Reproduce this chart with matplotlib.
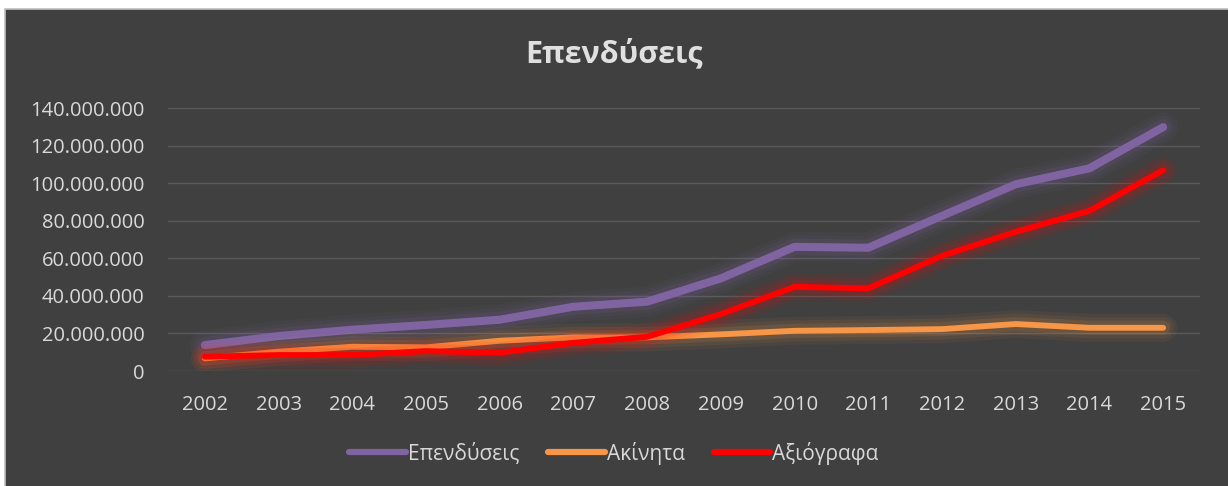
import matplotlib
matplotlib.use('Agg')
import matplotlib.pyplot as plt
from matplotlib.patches import Rectangle
from matplotlib.ticker import FuncFormatter

plt.rcParams['font.family'] = ['Open Sans', 'DejaVu Sans']

# data
years = ['2002', '2003', '2004', '2005', '2006', '2007', '2008',
         '2009', '2010', '2011', '2012', '2013', '2014', '2015']
ependyseis = [13.8e6, 18.6e6, 22.0e6, 24.5e6, 27.3e6, 34.2e6, 36.9e6,
              49.3e6, 66.1e6, 65.6e6, 82.6e6, 99.4e6, 107.9e6, 129.8e6]
akinita = [6.7e6, 10.3e6, 12.9e6, 12.6e6, 16.1e6, 17.9e6, 17.9e6,
           19.5e6, 21.4e6, 21.8e6, 22.3e6, 25.0e6, 23.0e6, 23.0e6]
axiografa = [7.6e6, 8.5e6, 8.5e6, 10.6e6, 9.7e6, 15.0e6, 18.2e6,
             30.3e6, 44.8e6, 44.0e6, 61.3e6, 74.1e6, 85.3e6, 106.9e6]

series = [
    ('Επενδύσεις', ependyseis, '#8064A2', 5.8),
    ('Ακίνητα', akinita, '#F79646', 4.2),
    ('Αξιόγραφα', axiografa, '#FF0000', 4.2),
]

bg = '#404040'
txt = '#D9D9D9'

fig = plt.figure(figsize=(12.28, 4.86), dpi=100, facecolor='white')
# chart area background with thin light border
fig.patches.append(Rectangle((5 / 1228, -0.01), 1.0, 1 - 9 / 486 + 0.01,
                             transform=fig.transFigure, facecolor=bg,
                             edgecolor='#BFBFBF', linewidth=1.2, zorder=-10))

ax = fig.add_axes([168 / 1228, 1 - 371 / 486, 1032 / 1228, 263 / 486])
ax.set_facecolor('none')

x = list(range(len(years)))
for name, vals, color, lw in series:
    # soft glow under each line
    for w, a in [(lw + 16, 0.06), (lw + 11, 0.08), (lw + 6, 0.12)]:
        ax.plot(x, vals, color=color, linewidth=w, alpha=a,
                solid_capstyle='round', solid_joinstyle='round')
    ax.plot(x, vals, color=color, linewidth=lw, label=name,
            solid_capstyle='round', solid_joinstyle='round')

ax.set_xlim(-0.5, len(years) - 0.5)
ax.set_ylim(0, 140e6)
ax.set_yticks(range(0, 140000001, 20000000))
ax.yaxis.set_major_formatter(FuncFormatter(lambda v, p: f'{int(v):,}'.replace(',', '.')))
ax.set_xticks(x)
ax.set_xticklabels(years)

ax.grid(axis='y', color='#5A5A5A', linewidth=1.0)
ax.set_axisbelow(True)
for s in ax.spines.values():
    s.set_visible(False)
ax.tick_params(length=0, colors=txt, labelsize=14.5)
ax.tick_params(axis='y', pad=17)
ax.tick_params(axis='x', pad=17)

fig.text(0.5, 1 - 54 / 486, 'Επενδύσεις', ha='center', va='center',
         fontsize=22, fontweight='bold', color='#E0E0E0')

leg = fig.legend(loc='center', bbox_to_anchor=(0.5, 1 - 453 / 486), ncol=3,
                 frameon=False, fontsize=15, handlelength=2.7,
                 handletextpad=0.1, columnspacing=1.4)
for t in leg.get_texts():
    t.set_color(txt)
for h in leg.get_lines():
    h.set_linewidth(4.5)
    h.set_solid_capstyle('round')

fig.savefig('out.png', dpi=100, facecolor=fig.get_facecolor())
